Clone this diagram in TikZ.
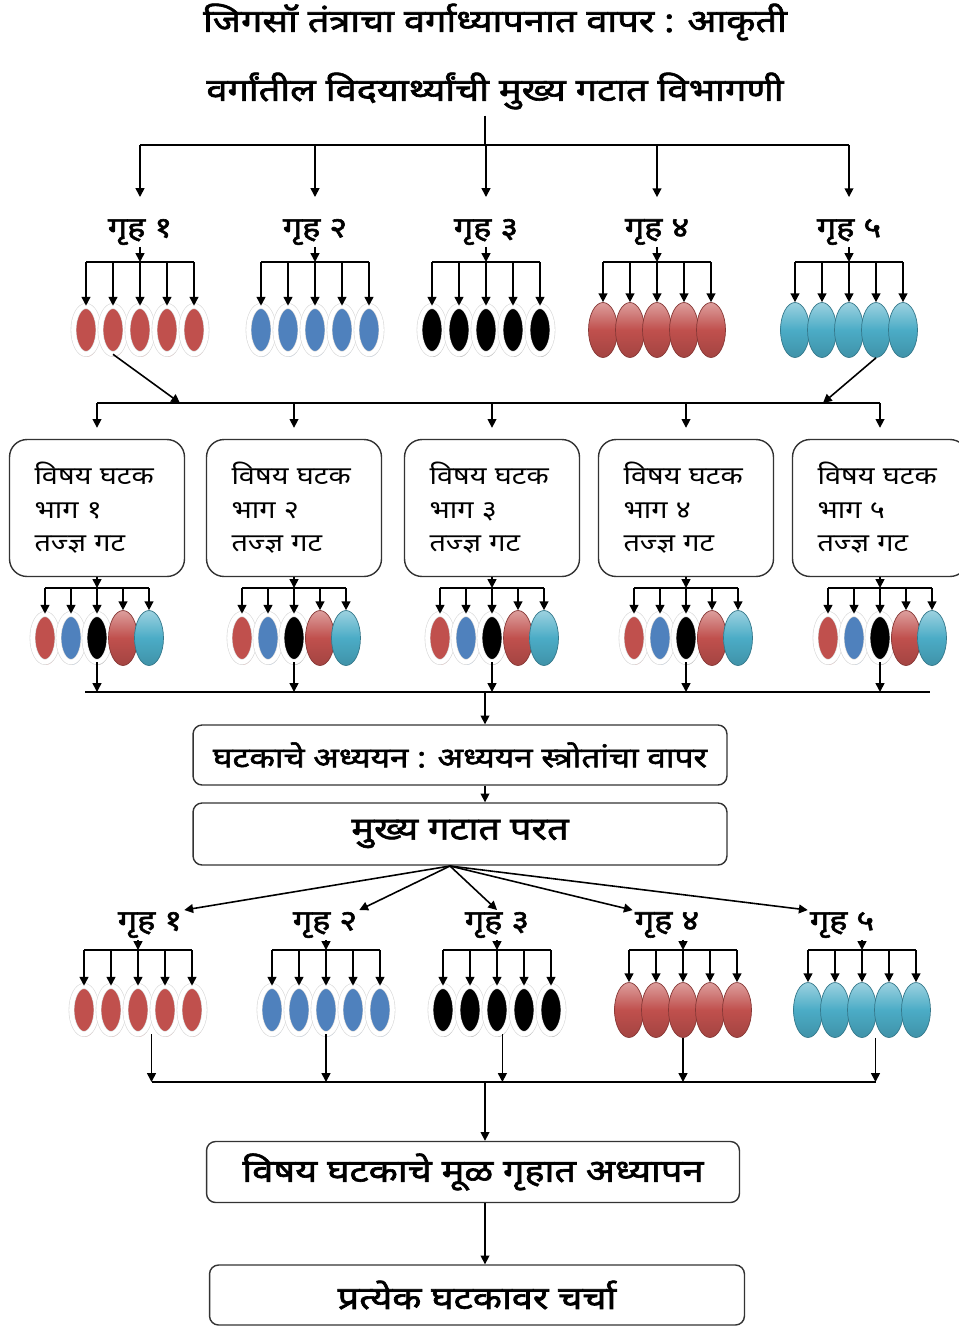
\documentclass[tikz,border=0pt]{standalone}
\usepackage{fontspec}
\setmainfont[Script=Devanagari,FakeStretch=1.15]{Noto Sans}
\newfontfamily\devabold[Script=Devanagari,FakeBold=2,FakeStretch=1.2]{Noto Sans}
\usetikzlibrary{shapes,shapes.geometric,calc,positioning,arrows.meta,shadows}

\definecolor{eggred}{HTML}{C0504D}
\definecolor{eggblue}{HTML}{4F81BD}
\definecolor{eggcyan}{HTML}{4BACC6}

\tikzset{
	link/.style={line width=0.9pt,-{Triangle[width=5pt,length=5pt]}},
	bar/.style={line width=0.9pt},
	ringegg/.style={ellipse,inner sep=0pt,minimum width=0.5cm,minimum height=0.96cm,
		fill=#1,draw=gray!30,double=white,double distance=2.6pt,line width=0.35pt,
		drop shadow={shadow xshift=0.7pt,shadow yshift=-1.6pt,fill=#1!40,opacity=1}},
	glossegg/.style={ellipse,inner sep=0pt,minimum width=0.58cm,minimum height=1.1cm,
		top color=#1!55!white,bottom color=#1!85!black,middle color=#1,
		draw=#1!70!black,line width=0.4pt},
	heading/.style={font=\devabold\fontsize{18}{21}\selectfont},
	grp/.style={font=\devabold\fontsize{16.3}{19}\selectfont,inner sep=1pt},
	part/.style={draw=black!80,line width=0.8pt,rounded corners=0.35cm,
		minimum height=2.74cm,text width=2.5cm,inner xsep=0.5cm,align=left,
		font=\fontsize{14.3}{19}\selectfont},
	stage/.style={draw=black!80,line width=0.8pt,rounded corners=0.18cm,
		minimum width=10.68cm,minimum height=1.2cm,
		font=\devabold\fontsize{18}{21}\selectfont}
}

\begin{document}
\begin{tikzpicture}[x=0.02cm,y=-0.02cm]
	\useasboundingbox (0,0) rectangle (958,1328);

	% headings
	\node[heading] (t1) at (495,22) {जिगसॉ तंत्राचा वर्गाध्यापनात वापर : आकृती};
	\node[heading] (t2) at (495,91) {वर्गांतील विदयार्थ्यांची मुख्य गटात विभागणी};
	\coordinate (top) at (485,145);

	% home groups, first time
	\foreach \g/\cx/\lab/\kind/\col in {1/140/१/ringegg/eggred,2/315/२/ringegg/eggblue,
		3/486/३/ringegg/black,4/657/४/glossegg/eggred,5/849/५/glossegg/eggcyan}{
		\node[grp] (g\g) at (\cx,232) {गृह \lab};
		\coordinate (f\g) at (\cx,262);
		\foreach \k/\n in {-2/a,-1/b,0/c,1/d,2/e}
			\node[\kind=\col] (e\g\n) at (\cx+27*\k,330) {};
		\draw[link] (g\g.south) -- (f\g);
		\draw[bar] (f\g -| e\g a) -- (f\g -| e\g e);
		\foreach \n in {a,b,c,d,e}
			\draw[link] (f\g -| e\g\n) -- (e\g\n.north);
		\draw[link,shorten >=0.4cm] (top -| g\g) -- (g\g.north);
	}
	\draw[bar] (t2.south -| top) -- (top);
	\draw[bar] (top -| g1) -- (top -| g5);

	% expert groups
	\coordinate (mix) at (485,403);
	\coordinate (jl) at (180,403);
	\coordinate (jr) at (823,403);
	\draw[link] (e1b.south) -- (jl);
	\draw[link] (e5d.south) -- (jr);
	\coordinate (low) at (485,692);
	\coordinate (lowL) at (85,692);
	\coordinate (lowR) at (930,692);
	\foreach \i/\bx/\lab in {1/97/१,2/294/२,3/492/३,4/686/४,5/880/५}{
		\node[part] (p\i) at (\bx,508) {विषय घटक\\भाग \lab\\तज्ज्ञ गट};
		\draw[link,shorten >=0.22cm] (p\i.north |- mix) -- (p\i.north);
		\coordinate (q\i) at (\bx,588);
		\draw[link] (p\i.south) -- (q\i);
		\foreach \k/\n/\kind/\col in {-2/a/ringegg/eggred,-1/b/ringegg/eggblue,
			0/c/ringegg/black,1/d/glossegg/eggred,2/e/glossegg/eggcyan}
			\node[\kind=\col] (m\i\n) at ($(q\i)+(26*\k,50)$) {};
		\draw[bar] (q\i -| m\i a) -- (q\i -| m\i e);
		\foreach \n in {a,b,c,d,e}
			\draw[link] (q\i -| m\i\n) -- (m\i\n.north);
		\draw[link] (m\i c.south) -- (m\i c.south |- low);
	}
	\draw[bar] (p1.north |- mix) -- (p5.north |- mix);
	\draw[bar] (lowL) -- (lowR);

	% study and return
	\node[stage,font=\devabold\fontsize{15.8}{19}\selectfont] (s1) at (460,755) {घटकाचे अध्ययन : अध्ययन स्त्रोतांचा वापर};
	\node[stage,minimum height=1.24cm] (s2) at (460,834) {मुख्य गटात परत};
	\draw[link] (low) -- (low |- s1.north);
	\draw[link] (s1.south -| low) -- (s2.north -| low);
	\coordinate (spread) at (450,866);

	% home groups, second time
	\coordinate (foot) at (485,1082);
	\foreach \g/\lx/\cx/\lab/\kind/\col/\anc in {1/150/138/१/ringegg/eggred/north east,
		2/325/326/२/ringegg/eggblue/north east,3/497/497/३/ringegg/black/north,
		4/667/683/४/glossegg/eggred/north west,5/842/862/५/glossegg/eggcyan/north west}{
		\node[grp] (h\g) at (\lx,925) {गृह \lab};
		\draw[link] (spread) -- (h\g.\anc);
		\coordinate (r\g) at (\cx,950);
		\foreach \k/\n in {-2/a,-1/b,0/c,1/d,2/e}
			\node[\kind=\col] (k\g\n) at (\cx+27*\k,1010) {};
		\draw[link] (h\g.south -| r\g) -- (r\g);
		\draw[bar] (r\g -| k\g a) -- (r\g -| k\g e);
		\foreach \n in {a,b,c,d,e}
			\draw[link] (r\g -| k\g\n) -- (k\g\n.north);
	}
	\coordinate (d1) at ($(k1c.south)!0.5!(k1d.south)$);
	\coordinate (d2) at (k2c.south);
	\coordinate (d3) at ($(k3c.south)!0.2!(k3d.south)$);
	\coordinate (d4) at (k4c.south);
	\coordinate (d5) at ($(k5c.south)!0.5!(k5d.south)$);
	\foreach \i in {1,...,5}
		\draw[link] (d\i) -- (d\i |- foot);
	\draw[bar] (d1 |- foot) -- (d5 |- foot);

	% teaching and discussion
	\node[stage,minimum width=10.66cm,minimum height=1.22cm] (s3) at (473,1172) {विषय घटकाचे मूळ गृहात अध्यापन};
	\node[stage,minimum width=10.7cm] (s4) at (477,1295) {प्रत्येक घटकावर चर्चा};
	\draw[link] (foot) -- (foot |- s3.north);
	\draw[link] (s3.south -| foot) -- (s4.north -| foot);
\end{tikzpicture}
\end{document}
